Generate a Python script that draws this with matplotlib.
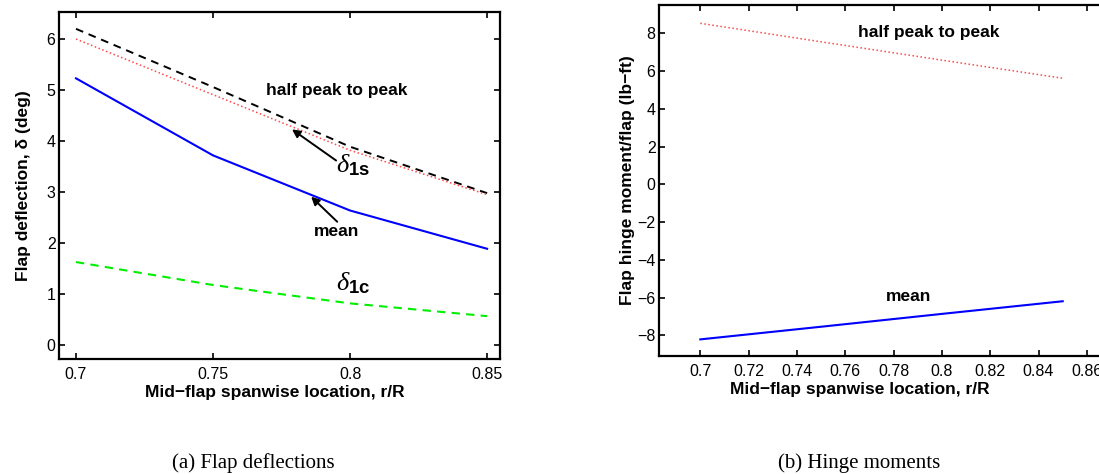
import numpy as np
import matplotlib.pyplot as plt
from matplotlib.ticker import FormatStrFormatter

plt.rcParams['font.family'] = ['Liberation Sans', 'DejaVu Sans']
plt.rcParams['mathtext.fontset'] = 'custom'
plt.rcParams['mathtext.rm'] = 'Liberation Serif'
plt.rcParams['mathtext.it'] = 'Liberation Serif:italic'
plt.rcParams['mathtext.bf'] = 'Liberation Sans:bold'

# spanwise flap locations
r_R = [0.7, 0.75, 0.8, 0.85]

# (a) flap deflections, deg
delta_hpp = [6.20, 5.06, 3.89, 2.98]
delta_1s = [6.00, 4.91, 3.82, 2.95]
delta_mean = [5.23, 3.72, 2.64, 1.89]
delta_1c = [1.63, 1.18, 0.82, 0.57]

# (b) hinge moments, lb-ft
hm_hpp = [8.53, 7.55, 6.58, 5.62]
hm_mean = [-8.21, -7.54, -6.86, -6.19]

xticks_a = [0.7, 0.75, 0.8, 0.85]
xticks_b = [0.7, 0.72, 0.74, 0.76, 0.78, 0.8, 0.82, 0.84, 0.86]
yticks_a = [0, 1, 2, 3, 4, 5, 6]
yticks_b = [-8, -6, -4, -2, 0, 2, 4, 6, 8]

W, H = 1099, 474
fig = plt.figure(figsize=(W / 100, H / 100), dpi=100)


def box(l, r, t, b):
    return [l / W, 1 - b / H, (r - l) / W, (b - t) / H]


def style(ax):
    for s in ax.spines.values():
        s.set_linewidth(1.6)
    ax.tick_params(direction='in', length=4, width=1.2, top=True, right=True,
                   labelsize=11.5)
    ax.tick_params(axis='x', pad=6)
    ax.tick_params(axis='y', pad=2.5)


bold = dict(fontsize=12.5, fontweight='bold')
arrow = dict(arrowstyle='-|>', color='k', lw=1.4, mutation_scale=12,
             shrinkA=0, shrinkB=0)

# ---- (a) flap deflections
ax1 = fig.add_axes(box(59, 500, 12, 359))
ax1.plot(r_R, delta_hpp, '--', color='k', lw=1.4, dashes=(4, 3))
ax1.plot(r_R, delta_1s, ':', color='#ff4848', lw=1.1)
ax1.plot(r_R, delta_mean, '-', color='#0000ff', lw=1.5)
ax1.plot(r_R, delta_1c, '--', color='#00ee00', lw=1.5, dashes=(4, 3))
ax1.set_xlim(0.6938, 0.8547)
ax1.set_ylim(-0.27, 6.53)
ax1.set_xticks(xticks_a)
ax1.set_yticks(yticks_a)
ax1.xaxis.set_major_formatter(FormatStrFormatter('%g'))
style(ax1)
ax1.set_xlabel('Mid\u2212flap spanwise location, r/R', labelpad=2, **bold)
ax1.xaxis.label.set_x((275 - 59) / (500 - 59))
ax1.set_ylabel('Flap deflection, \u03b4 (deg)', labelpad=11.5, **bold)

ax1.text(0.7952, 5.0, 'half peak to peak', ha='center', va='center', **bold)
ax1.annotate('', xy=(0.7788, 4.23), xytext=(0.7949, 3.62), arrowprops=arrow)
ax1.text(0.7950, 3.52, r'$\delta_{\mathbf{1s}}$', fontsize=19, va='center')
ax1.annotate('', xy=(0.7858, 2.91), xytext=(0.7953, 2.42), arrowprops=arrow)
ax1.text(0.7949, 2.22, 'mean', ha='center', va='center', **bold)
ax1.text(0.7950, 1.22, r'$\delta_{\mathbf{1c}}$', fontsize=19, va='center')

# ---- (b) hinge moments
ax2 = fig.add_axes(box(659, 1105, 5, 356))
ax2.plot(r_R, hm_hpp, ':', color='#ff4848', lw=1.1)
ax2.plot(r_R, hm_mean, '-', color='#0000ff', lw=1.5)
ax2.set_xlim(0.6829, 0.8675)
ax2.set_ylim(-9.09, 9.5)
ax2.set_xticks(xticks_b)
ax2.set_yticks(yticks_b)
ax2.xaxis.set_major_formatter(FormatStrFormatter('%g'))
style(ax2)
ax2.set_xlabel('Mid\u2212flap spanwise location, r/R', labelpad=2, **bold)
ax2.xaxis.label.set_x((860 - 659) / (1105 - 659))
ax2.set_ylabel('Flap hinge moment/flap (lb\u2212ft)', labelpad=1.5, **bold)

ax2.text(0.7947, 8.06, 'half peak to peak', ha='center', va='center', **bold)
ax2.text(0.7864, -5.96, 'mean', ha='center', va='center', **bold)

# sub-figure captions
cap = dict(fontsize=15, family='Liberation Serif', ha='center', va='center')
fig.text(253 / W, 1 - 463 / H, '(a) Flap deflections', **cap)
fig.text(859 / W, 1 - 463 / H, '(b) Hinge moments', **cap)

fig.savefig('out.png', dpi=100)
